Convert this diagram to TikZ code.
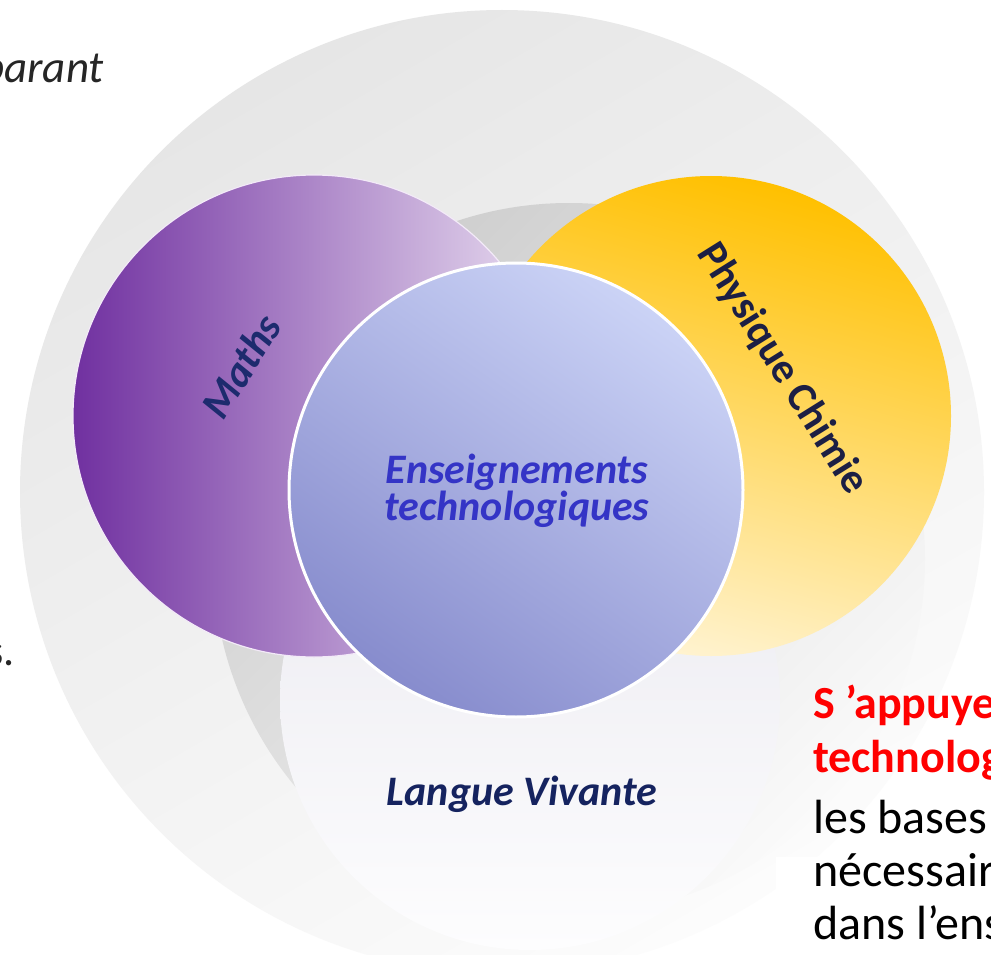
\documentclass[tikz,border=0pt]{standalone}
\usepackage{fontspec}
\setmainfont{Carlito}
\definecolor{ringTop}{HTML}{E6E6E6}
\definecolor{ringBot}{HTML}{FCFCFC}
\definecolor{greyTop}{HTML}{CDCDCD}
\definecolor{greyMid}{HTML}{DADADA}
\definecolor{greyBot}{HTML}{FAFAFA}
\definecolor{lvTop}{HTML}{E9E8EF}
\definecolor{lvBot}{HTML}{FDFDFE}
\definecolor{mathL}{HTML}{7030A0}
\definecolor{mathM}{HTML}{A57BC3}
\definecolor{mathR}{HTML}{EADFF1}
\definecolor{mathRim}{HTML}{F3EAF8}
\definecolor{pcTop}{HTML}{FFC000}
\definecolor{pcMid}{HTML}{FFD350}
\definecolor{pcBot}{HTML}{FFF3D0}
\definecolor{etTop}{HTML}{CBD3F6}
\definecolor{etBot}{HTML}{878CCD}
\definecolor{mathTxt}{HTML}{1D2B6E}
\definecolor{pcTxt}{HTML}{1C1F44}
\definecolor{etTxt}{HTML}{3434C6}
\definecolor{lvTxt}{HTML}{15235F}
\definecolor{txtDark}{HTML}{262626}
\definecolor{txtRed}{HTML}{FF0000}
\begin{document}
\begin{tikzpicture}[x=1pt,y=-1pt,
  disc/.style={circle, inner sep=0pt, draw=none},
  lbl/.style={font=\fontsize{42}{37}\selectfont\bfseries\itshape, inner sep=0pt},
  lblup/.style={font=\fontsize{42}{37}\selectfont\bfseries, inner sep=0pt},
  sideblack/.style={font=\fontsize{48}{54}\selectfont, inner sep=0pt, anchor=base west, text=black},
  sidered/.style={font=\fontsize{46}{54}\selectfont\bfseries, inner sep=0pt, anchor=base west, text=txtRed},
  cuttext/.style={inner sep=0pt, anchor=base east, text=txtDark}]
\fill[white] (0,0) rectangle (991,955);
\useasboundingbox (0,0) rectangle (991,955);
% outer ring
\node[disc, minimum size=964pt, top color=ringTop, bottom color=ringBot, shading angle=30] (ring) at (502,492) {};
% grey back circle
\node[disc, minimum size=712pt, top color=greyTop, middle color=greyMid, bottom color=greyBot, shading angle=45] (back) at (569,559) {};
% Langue Vivante circle
\node[disc, minimum size=500pt, top color=lvTop, bottom color=lvBot] (lv) at (530,700) {};
% Maths circle
\node[disc, minimum size=482pt, left color=mathL, middle color=mathM, right color=mathR, draw=mathRim, line width=1.2pt] (maths) at (314,416) {};
% Physique Chimie circle
\node[disc, minimum size=480pt, top color=pcTop, middle color=pcMid, bottom color=pcBot, shading angle=-15] (pc) at (711,416) {};
% Enseignements technologiques circle
\node[disc, minimum size=454pt, top color=etTop, bottom color=etBot, shading angle=-35, draw=white, line width=3pt] (et) at (516,490) {};
% labels
\node[lbl, text=mathTxt, rotate=58] (tmaths) at (241,366) {Maths};
\node[lblup, text=pcTxt, rotate=-58] (tpc) at (782,369) {Physique Chimie};
\node[lbl, text=etTxt, align=center] (tet) at (517,491) {Enseignements\\technologiques};
\node[lbl, text=lvTxt, anchor=base] (tlv) at (522,805) {Langue Vivante};
% surrounding page text
\node[cuttext, font=\fontsize{45}{50}\selectfont\itshape] (tparant) at (104,83) {parant};
\node[cuttext, font=\fontsize{44}{50}\selectfont] (ts) at (15,665) {s.};
\fill[white] (776,857) rectangle (991,955);
\node[sidered] (r1) at (813,718) {S ’appuye};
\node[sidered] (r2) at (813,772) {technolog};
\node[sideblack] (b1) at (813,833) {les bases};
\node[sideblack] (b2) at (813,886) {nécessair};
\node[sideblack] (b3) at (813,939) {dans l’ens};
\end{tikzpicture}
\end{document}
